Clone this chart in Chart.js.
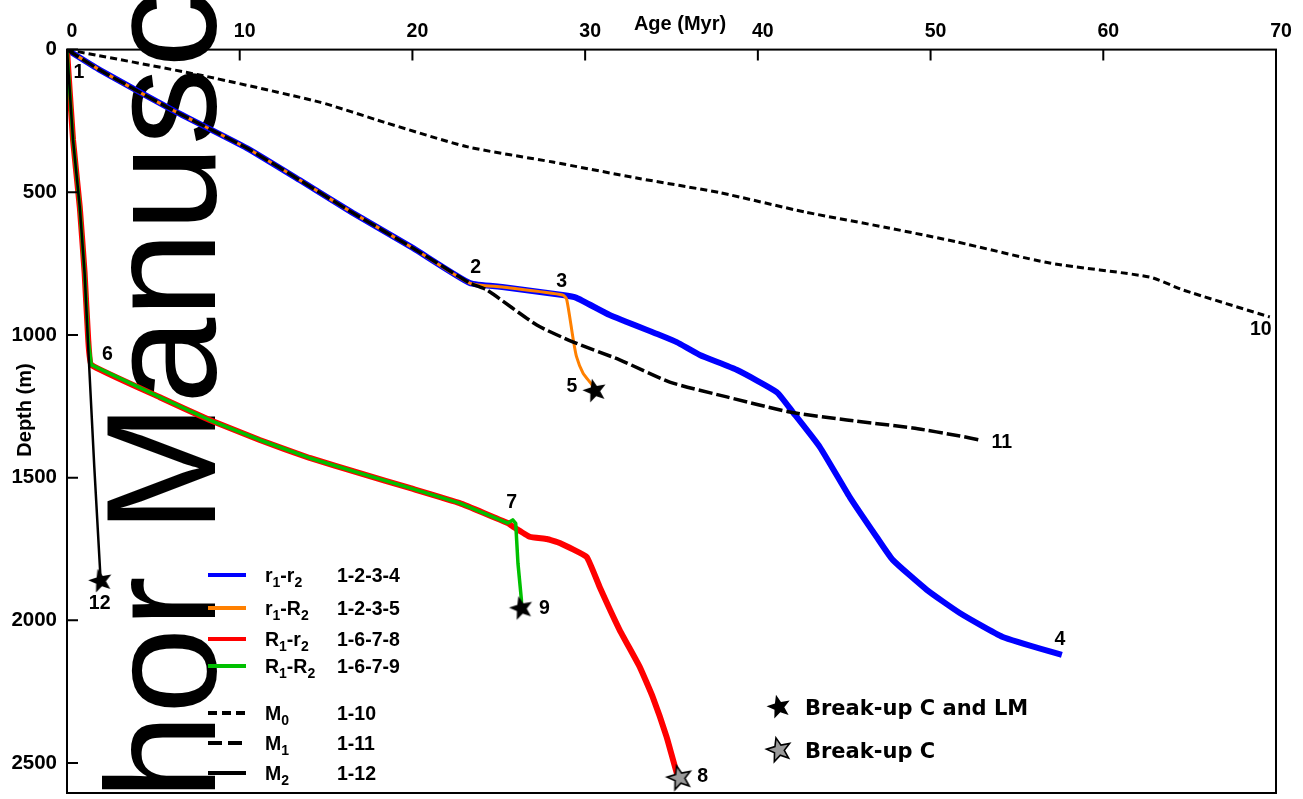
<!DOCTYPE html>
<html>
<head>
<meta charset="utf-8">
<script src="https://cdn.jsdelivr.net/npm/chart.js@4.4.1/dist/chart.umd.min.js"></script>
<style>
  html, body { margin: 0; padding: 0; background: #fff; }
  #c { display: block; }
</style>
</head>
<body>
<canvas id="c" width="1303" height="799"></canvas>
<script>
// ---------------- DATA ----------------
const ageTicks = [0, 10, 20, 30, 40, 50, 60, 70];
const depthTicks = [0, 500, 1000, 1500, 2000, 2500];

// r1-r2 (1-2-3-4)
const r1r2Age   = [0, 1.89, 6.12, 10.41, 13.47, 16.54, 20.02, 23.32, 25.2, 28.7, 29.5, 31.42, 34.32, 35.3, 36.64, 38.77, 41.09, 42.02, 43.58, 45.32, 46.88, 47.81, 49.78, 51.69, 54.18, 57.6];
const r1r2Depth = [0, 71, 212, 345, 457, 572, 695, 818, 832, 860, 870, 930, 1000, 1025, 1070, 1122, 1200, 1270, 1392, 1568, 1708, 1788, 1893, 1974, 2058, 2121];

// r1-R2 (1-2-3-5)
const r1R2Age   = [0, 1.89, 6.12, 10.41, 13.47, 16.54, 20.02, 23.32, 25.2, 28.7, 28.93, 29.3, 29.5, 29.88, 30.4, 30.56];
const r1R2Depth = [0, 71, 212, 345, 457, 572, 695, 818, 832, 860, 875, 1012, 1076, 1134, 1175, 1196];

// R1-r2 (1-6-7-8)
const R1r2Age   = [0, 0.35, 0.74, 1.02, 1.23, 1.41, 5.37, 8.26, 11.16, 14.05, 16.95, 19.84, 22.74, 25.52, 25.83, 26.79, 27.78, 28.53, 30.09, 30.84, 32.0, 33.16, 33.91, 34.72, 35.3, 35.47];
const R1r2Depth = [0, 317, 552, 783, 1017, 1105, 1218, 1298, 1368, 1431, 1484, 1536, 1589, 1659, 1672, 1707, 1715, 1729, 1778, 1883, 2034, 2163, 2268, 2409, 2534, 2552];

// R1-R2 (1-6-7-9)
const R1R2Age   = [0, 0.35, 0.74, 1.02, 1.23, 1.41, 5.37, 8.26, 11.16, 14.05, 16.95, 19.84, 22.74, 25.52, 25.81, 25.98, 26.11, 26.31, 26.31];
const R1R2Depth = [0, 317, 552, 783, 1017, 1105, 1218, 1298, 1368, 1431, 1484, 1536, 1589, 1659, 1648, 1660, 1800, 1928, 1958];

// M0 (1-10)
const M0Age   = [0, 7.68, 14.63, 18.34, 23.2, 28.12, 32.98, 37.85, 42.71, 47.58, 51.52, 56.9, 62.69, 64.6, 69.64];
const M0Depth = [0, 89, 184, 254, 341, 394, 450, 502, 569, 625, 674, 748, 797, 842, 937];

// M1 (1-11)
const M1Age   = [0, 1.89, 6.12, 10.41, 13.47, 16.54, 20.02, 23.32, 24.3, 27.2, 29.28, 32.0, 34.9, 38.2, 41.85, 45.15, 48.97, 51.7, 52.85];
const M1Depth = [0, 71, 212, 345, 457, 572, 695, 818, 842, 965, 1024, 1087, 1165, 1217, 1270, 1298, 1326, 1354, 1368];

// M2 (1-12)
const M2Age   = [0, 0.35, 0.74, 1.02, 1.28, 1.58, 1.95];
const M2Depth = [0, 317, 552, 783, 1105, 1462, 1862];

// Break-up markers
const breakupCLMAge   = [30.56, 26.31, 1.95];
const breakupCLMDepth = [1196, 1958, 1862];
const breakupCAge   = [35.47];
const breakupCDepth = [2552];

// Numbered points
const pointNames = ['1', '2', '3', '4', '5', '6', '7', '8', '9', '10', '11', '12'];
const pointAge   = [0, 23.32, 28.7, 57.6, 30.56, 1.41, 25.81, 35.47, 26.31, 69.64, 52.85, 1.95];
const pointDepth = [0, 818, 860, 2121, 1196, 1105, 1648, 2552, 1958, 937, 1368, 1862];

// Legend texts
const seriesNames = ['r₁-r₂', 'r₁-R₂', 'R₁-r₂', 'R₁-R₂', 'M₀', 'M₁', 'M₂'];
const seriesPaths = ['1-2-3-4', '1-2-3-5', '1-6-7-8', '1-6-7-9', '1-10', '1-11', '1-12'];
const markerNames = ['Break-up C and LM', 'Break-up C'];
const xTitle = 'Age (Myr)';
const yTitle = 'Depth (m)';
const watermarkText = 'Author Manuscript';

// ---------------- STYLES ----------------
const FONT = '"Liberation Sans", Arial, Helvetica, sans-serif';
const seriesStyles = [
  { color: '#0000ff', width: 6, dash: [] },
  { color: '#ff8000', width: 3, dash: [] },
  { color: '#ff0000', width: 6, dash: [] },
  { color: '#00c000', width: 3.5, dash: [] },
  { color: '#000000', width: 3, dash: [7, 4] },
  { color: '#000000', width: 3.5, dash: [14, 4] },
  { color: '#000000', width: 2.5, dash: [] }
];
// label offsets (px) relative to anchor
const labelOffsets = [[12, 23], [6, -15], [-1, -13], [-2, -15], [-23, -4], [16, -10], [-1, -17], [23, -1], [23, 0], [-9, 13], [22, 3], [-1, 23]];

function zip(a, d) { return a.map((v, i) => ({ x: v, y: d[i] })); }

function makeStar(fill, stroke) {
  const s = 32, c = document.createElement('canvas');
  c.width = s; c.height = s;
  const g = c.getContext('2d');
  const R = 12.5, r = 5.3, rot = -14 * Math.PI / 180;
  g.beginPath();
  for (let i = 0; i < 10; i++) {
    const ang = rot - Math.PI / 2 + i * Math.PI / 5;
    const rad = (i % 2) ? r : R;
    g.lineTo(s / 2 + rad * Math.cos(ang), s / 2 + rad * Math.sin(ang));
  }
  g.closePath();
  g.fillStyle = fill; g.fill();
  if (stroke) { g.lineJoin = 'miter'; g.lineWidth = 1.6; g.strokeStyle = stroke; g.stroke(); }
  return c;
}
const starBlack = makeStar('#000000', null);
const starGray = makeStar('#9a9a9a', '#000000');

function lineDS(label, ages, depths, st, tension) {
  return {
    label, data: zip(ages, depths), showLine: true, pointRadius: 0, pointHoverRadius: 0,
    borderColor: st.color, backgroundColor: st.color, borderWidth: st.width,
    borderDash: st.dash, tension: tension || 0, borderJoinStyle: 'round', fill: false
  };
}

// dataset index 0 drawn on top
const datasets = [
  { label: markerNames[0], data: zip(breakupCLMAge, breakupCLMDepth), pointStyle: starBlack, pointRadius: 12, showLine: false },
  { label: markerNames[1], data: zip(breakupCAge, breakupCDepth), pointStyle: starGray, pointRadius: 12, showLine: false },
  lineDS(seriesNames[6], M2Age, M2Depth, seriesStyles[6], 0),
  lineDS(seriesNames[5], M1Age, M1Depth, seriesStyles[5], 0.2),
  lineDS(seriesNames[4], M0Age, M0Depth, seriesStyles[4], 0.2),
  lineDS(seriesNames[3], R1R2Age, R1R2Depth, seriesStyles[3], 0),
  lineDS(seriesNames[1], r1R2Age, r1R2Depth, seriesStyles[1], 0.2),
  lineDS(seriesNames[2], R1r2Age, R1r2Depth, seriesStyles[2], 0.1),
  lineDS(seriesNames[0], r1r2Age, r1r2Depth, seriesStyles[0], 0.15)
];

// draw text with unicode subscripts rendered as lowered small digits
const SUBS = { '₀': '0', '₁': '1', '₂': '2', '₃': '3' };
function drawRich(ctx, text, x, y, size) {
  let cx = x;
  for (const ch of text) {
    if (SUBS[ch]) {
      ctx.font = 'bold ' + Math.round(size * 0.72) + 'px ' + FONT;
      ctx.fillText(SUBS[ch], cx, y + 5);
      cx += ctx.measureText(SUBS[ch]).width;
    } else {
      ctx.font = 'bold ' + size + 'px ' + FONT;
      ctx.fillText(ch, cx, y);
      cx += ctx.measureText(ch).width;
    }
  }
}

const decor = {
  id: 'decor',
  beforeDatasetsDraw(chart) {
    const ctx = chart.ctx;
    ctx.save();
    ctx.font = '155px ' + FONT;
    const w = ctx.measureText('Author ').width;
    ctx.translate(215, 522 + 11 + w);
    ctx.rotate(-Math.PI / 2);
    ctx.fillStyle = '#000';
    ctx.textBaseline = 'alphabetic';
    ctx.textAlign = 'left';
    ctx.fillText(watermarkText, 0, 0);
    ctx.restore();
  },
  afterDatasetsDraw(chart) {
    const { ctx, chartArea: a, scales: { x, y } } = chart;
    ctx.save();
    // frame
    ctx.strokeStyle = '#000'; ctx.lineWidth = 2; ctx.setLineDash([]);
    ctx.strokeRect(a.left, a.top, a.right - a.left, a.bottom - a.top);
    ctx.beginPath();
    ageTicks.forEach(v => { const px = x.getPixelForValue(v); ctx.moveTo(px, a.top); ctx.lineTo(px, a.top + 11); });
    depthTicks.forEach(v => { const py = y.getPixelForValue(v); ctx.moveTo(a.left, py); ctx.lineTo(a.left + 11, py); });
    ctx.stroke();

    // titles
    ctx.fillStyle = '#000';
    ctx.font = 'bold 20px ' + FONT;
    ctx.textAlign = 'center'; ctx.textBaseline = 'alphabetic';
    ctx.fillText(xTitle, 680, 30);
    ctx.save();
    ctx.translate(31, 410);
    ctx.rotate(-Math.PI / 2);
    ctx.fillText(yTitle, 0, 0);
    ctx.restore();

    // point labels
    ctx.font = 'bold 19.5px ' + FONT;
    ctx.textAlign = 'center'; ctx.textBaseline = 'middle';
    pointNames.forEach((t, i) => {
      const px = x.getPixelForValue(pointAge[i]) + labelOffsets[i][0];
      const py = y.getPixelForValue(pointDepth[i]) + labelOffsets[i][1];
      ctx.fillText(t, px, py);
    });

    // legend
    const rowY = [575, 608, 639, 666, 713, 743, 773];
    ctx.textAlign = 'left'; ctx.textBaseline = 'alphabetic';
    seriesNames.forEach((n, i) => {
      const st = seriesStyles[i];
      ctx.beginPath();
      ctx.strokeStyle = st.color;
      ctx.lineWidth = 4;
      ctx.setLineDash(i === 4 ? [9, 5] : (i === 5 ? [14, 6] : []));
      ctx.moveTo(208, rowY[i]); ctx.lineTo(246, rowY[i]);
      ctx.stroke();
      ctx.setLineDash([]);
      ctx.fillStyle = '#000';
      drawRich(ctx, n, 265, rowY[i] + 7, 19.5);
      ctx.font = 'bold 19.5px ' + FONT;
      ctx.fillText(seriesPaths[i], 337, rowY[i] + 7);
    });

    // marker legend
    const mY = [707, 750];
    [starBlack, starGray].forEach((img, i) => {
      ctx.drawImage(img, 779 - img.width / 2, mY[i] - img.height / 2);
    });
    ctx.font = 'bold 21px "DejaVu Sans", sans-serif';
    ctx.fillStyle = '#000';
    markerNames.forEach((t, i) => ctx.fillText(t, 805, mY[i] + 8));
    ctx.restore();
  }
};

new Chart(document.getElementById('c'), {
  type: 'scatter',
  data: { datasets },
  options: {
    responsive: false,
    animation: false,
    devicePixelRatio: 1,
    layout: { autoPadding: false, padding: { left: 0, right: 27, top: 0, bottom: 6 } },
    plugins: { legend: { display: false }, tooltip: { enabled: false } },
    elements: { line: { borderCapStyle: 'butt' } },
    scales: {
      x: {
        type: 'linear', position: 'top', min: 0, max: 70,
        afterBuildTicks: s => { s.ticks = ageTicks.map(v => ({ value: v })); },
        afterFit: s => { s.height = 49.6; s.paddingLeft = 0; s.paddingRight = 0; },
        grid: { display: false, drawTicks: false },
        border: { display: false },
        ticks: { color: '#000', font: { family: FONT, size: 19.5, weight: 'bold' }, padding: 6, labelOffset: 5, maxRotation: 0, callback: v => String(v) }
      },
      y: {
        type: 'linear', position: 'left', reverse: true, min: 0, max: 2605,
        afterBuildTicks: s => { s.ticks = depthTicks.map(v => ({ value: v })); },
        afterFit: s => { s.width = 67; s.paddingTop = 0; s.paddingBottom = 0; },
        grid: { display: false, drawTicks: false },
        border: { display: false },
        ticks: { color: '#000', font: { family: FONT, size: 20.5, weight: 'bold' }, padding: 10, callback: v => String(v) }
      }
    }
  },
  plugins: [decor]
});
</script>
</body>
</html>
